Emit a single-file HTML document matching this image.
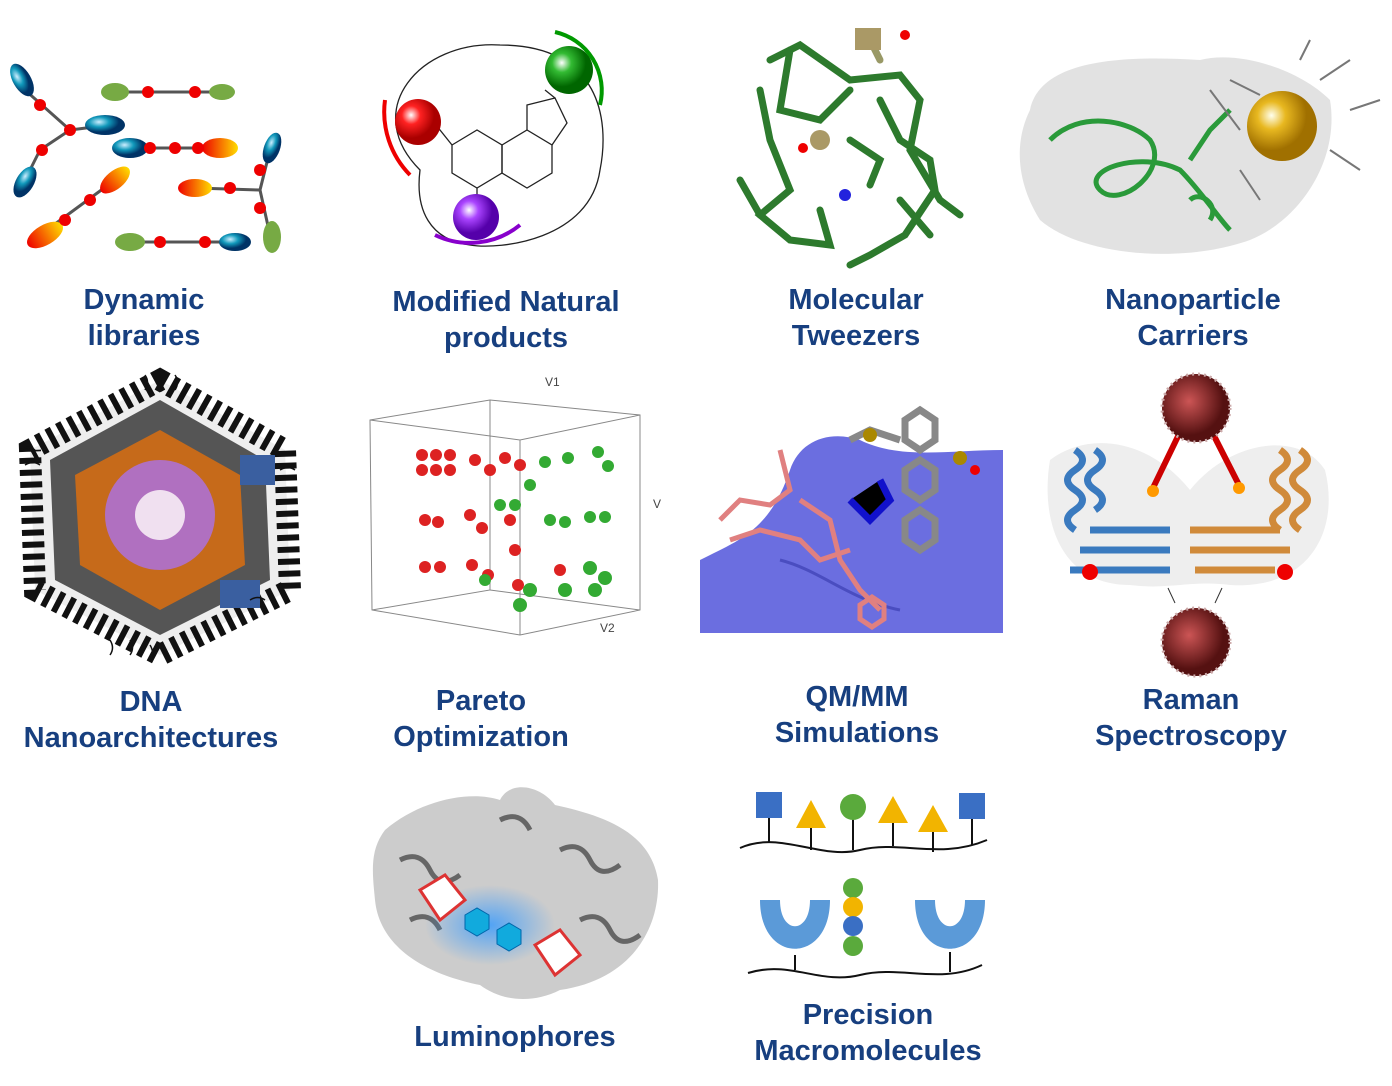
<!DOCTYPE html>
<html><head><meta charset="utf-8"><style>
html,body{margin:0;padding:0;background:#fff;}
body{width:1392px;height:1086px;position:relative;overflow:hidden;font-family:"Liberation Sans",sans-serif;}
.l{position:absolute;color:#173f7f;font-weight:bold;font-size:29px;line-height:35.5px;text-align:center;width:400px;white-space:nowrap;}
svg{position:absolute;left:0;top:0;}
</style></head><body>
<svg width="1392" height="1086" viewBox="0 0 1392 1086">
<defs>
<radialGradient id="gR" cx="35%" cy="35%"><stop offset="0" stop-color="#fff"/><stop offset=".4" stop-color="#f22"/><stop offset="1" stop-color="#a00"/></radialGradient>
<radialGradient id="gG" cx="35%" cy="35%"><stop offset="0" stop-color="#fff"/><stop offset=".4" stop-color="#3b3"/><stop offset="1" stop-color="#060"/></radialGradient>
<radialGradient id="gP" cx="35%" cy="35%"><stop offset="0" stop-color="#fff"/><stop offset=".4" stop-color="#a4f"/><stop offset="1" stop-color="#50a"/></radialGradient>
<radialGradient id="gY" cx="35%" cy="35%"><stop offset="0" stop-color="#ffe"/><stop offset=".4" stop-color="#e8b820"/><stop offset="1" stop-color="#a07000"/></radialGradient>
<radialGradient id="gB" cx="35%" cy="35%"><stop offset="0" stop-color="#cef"/><stop offset=".5" stop-color="#19b"/><stop offset="1" stop-color="#036"/></radialGradient>
<radialGradient id="gM" cx="40%" cy="40%"><stop offset="0" stop-color="#c55"/><stop offset="1" stop-color="#511"/></radialGradient>
<linearGradient id="gO" x1="0" x2="1"><stop offset="0" stop-color="#e00"/><stop offset="1" stop-color="#fd0"/></linearGradient>
<radialGradient id="gl" cx="50%" cy="50%"><stop offset="0" stop-color="#39f" stop-opacity=".8"/><stop offset="1" stop-color="#39f" stop-opacity="0"/></radialGradient>
</defs>

<g stroke="#555" stroke-width="3">
<line x1="25" y1="90" x2="70" y2="130"/><line x1="70" y1="130" x2="110" y2="125"/><line x1="40" y1="150" x2="70" y2="130"/><line x1="40" y1="150" x2="25" y2="180"/>
<line x1="110" y1="92" x2="220" y2="92"/><line x1="120" y1="148" x2="215" y2="148"/>
<line x1="40" y1="235" x2="115" y2="180"/><line x1="195" y1="188" x2="260" y2="190"/><line x1="260" y1="190" x2="270" y2="150"/><line x1="260" y1="190" x2="270" y2="235"/>
<line x1="125" y1="242" x2="235" y2="242"/>
</g>
<ellipse cx="22" cy="80" rx="9" ry="18" fill="url(#gB)" transform="rotate(-30 22 80)"/>
<ellipse cx="105" cy="125" rx="20" ry="10" fill="url(#gB)"/>
<ellipse cx="25" cy="182" rx="9" ry="17" fill="url(#gB)" transform="rotate(30 25 182)"/>
<ellipse cx="115" cy="92" rx="14" ry="9" fill="#7a4"/><ellipse cx="222" cy="92" rx="13" ry="8" fill="#7a4"/>
<ellipse cx="130" cy="148" rx="18" ry="10" fill="url(#gB)"/><ellipse cx="220" cy="148" rx="18" ry="10" fill="url(#gO)"/>
<ellipse cx="45" cy="235" rx="20" ry="10" fill="url(#gO)" transform="rotate(-30 45 235)"/><ellipse cx="115" cy="180" rx="18" ry="9" fill="url(#gO)" transform="rotate(-40 115 180)"/>
<ellipse cx="195" cy="188" rx="17" ry="9" fill="url(#gO)"/><ellipse cx="272" cy="148" rx="8" ry="16" fill="url(#gB)" transform="rotate(20 272 148)"/><ellipse cx="272" cy="237" rx="9" ry="16" fill="#7a4"/>
<ellipse cx="130" cy="242" rx="15" ry="9" fill="#7a4"/><ellipse cx="235" cy="242" rx="16" ry="9" fill="url(#gB)"/>
<g fill="#e00"><circle cx="40" cy="105" r="6"/><circle cx="70" cy="130" r="6"/><circle cx="42" cy="150" r="6"/><circle cx="148" cy="92" r="6"/><circle cx="195" cy="92" r="6"/><circle cx="150" cy="148" r="6"/><circle cx="175" cy="148" r="6"/><circle cx="198" cy="148" r="6"/><circle cx="65" cy="220" r="6"/><circle cx="90" cy="200" r="6"/><circle cx="230" cy="188" r="6"/><circle cx="260" cy="170" r="6"/><circle cx="260" cy="208" r="6"/><circle cx="160" cy="242" r="6"/><circle cx="205" cy="242" r="6"/></g>

<path d="M420,170 C360,110 420,40 500,45 C600,45 610,120 600,170 C590,240 500,250 470,245 C430,240 415,210 420,170Z" fill="none" stroke="#222" stroke-width="1.3"/>
<path d="M385,100 A90,90 0 0 0 410,175" fill="none" stroke="#e00" stroke-width="4"/>
<path d="M555,32 A60,60 0 0 1 600,105" fill="none" stroke="#090" stroke-width="4"/>
<path d="M435,235 A80,80 0 0 0 520,225" fill="none" stroke="#80c" stroke-width="4"/>
<g fill="none" stroke="#222" stroke-width="1.3"><path d="M452,145 L477,130 L502,145 L502,173 L477,188 L452,173Z"/><path d="M502,145 L527,130 L552,145 L552,173 L527,188 L502,173Z"/><path d="M527,130 L527,105 L555,98 L567,123 L552,145"/><line x1="436" y1="125" x2="452" y2="145"/><line x1="477" y1="188" x2="477" y2="205"/><line x1="545" y1="90" x2="555" y2="98"/></g>
<circle cx="418" cy="122" r="23" fill="url(#gR)"/><circle cx="569" cy="70" r="24" fill="url(#gG)"/><circle cx="476" cy="217" r="23" fill="url(#gP)"/>

<g stroke="#2d7a2d" stroke-width="7" stroke-linecap="round" fill="none">
<path d="M770,60 L800,45 L850,80 L900,75 L920,100 L910,150 L940,200 L960,215"/>
<path d="M760,90 L770,140 L790,190 L760,215 L790,240 L830,245 L820,210"/>
<path d="M790,50 L780,110 L820,120 L850,90"/>
<path d="M880,100 L900,140 L930,160 L935,190 L905,235 L870,255 L850,265"/>
<path d="M740,180 L760,215 M850,140 L880,160 L870,185 M900,200 L930,235"/>
<path d="M870,40 L880,60" stroke="#996"/>
</g>
<rect x="855" y="28" width="26" height="22" fill="#a96"/><circle cx="820" cy="140" r="10" fill="#a96"/>
<circle cx="905" cy="35" r="5" fill="#e00"/><circle cx="803" cy="148" r="5" fill="#e00"/><circle cx="845" cy="195" r="6" fill="#22d"/>

<path d="M1030,110 C1040,60 1120,55 1200,60 C1240,50 1300,70 1330,100 C1340,160 1300,220 1250,240 C1180,265 1080,255 1040,220 C1015,180 1015,140 1030,110Z" fill="#ddd" opacity=".85"/>
<g fill="none" stroke="#2a9a3a" stroke-width="5"><path d="M1050,140 C1080,110 1130,120 1150,140 C1170,170 1120,210 1100,190 C1080,170 1140,150 1180,170 C1200,190 1220,220 1230,230"/><path d="M1190,160 L1210,130 L1230,110 M1190,200 C1200,190 1220,205 1210,220"/></g>
<g stroke="#777" stroke-width="2"><path d="M1230,80 L1260,95 M1320,80 L1350,60 M1330,150 L1360,170 M1240,170 L1260,200 M1350,110 L1380,100 M1300,60 L1310,40 M1210,90 L1240,130"/></g>
<circle cx="1282" cy="126" r="35" fill="url(#gY)"/>

<polygon points="160,380 285,450 290,590 160,655 35,590 30,450" fill="#eee" stroke="#111" stroke-width="22" stroke-dasharray="6 6"/>
<polygon points="160,400 265,460 270,580 160,635 55,580 50,460" fill="#555"/>
<polygon points="160,430 240,475 245,565 160,610 80,565 75,475" fill="#c66a1a"/>
<circle cx="160" cy="515" r="55" fill="#b070c0"/><circle cx="160" cy="515" r="25" fill="#f0e0f0"/>
<g fill="#3a5fa0"><rect x="240" y="455" width="35" height="30"/><rect x="220" y="580" width="40" height="28"/></g>
<g stroke="#111" stroke-width="1.5" fill="none"><path d="M145,390 q5,-8 0,-15 M160,390 q5,-8 0,-15 M175,390 q5,-8 0,-15 M20,450 q8,-5 15,0 M25,465 q8,-5 15,0 M280,470 q8,-5 15,0 M280,490 q8,-5 15,0 M250,600 q8,-5 15,0 M110,640 q5,8 0,15 M130,640 q5,8 0,15 M150,645 q5,8 0,15"/></g>

<g fill="none" stroke="#888" stroke-width="1"><path d="M370,420 L490,400 L640,415 L640,610 L520,635 L372,610Z"/><path d="M370,420 L520,440 L640,415 M520,440 L520,635 M490,400 L490,590 L372,610 M490,590 L640,610"/></g>
<text x="545" y="386" font-family="Liberation Sans" font-size="12" fill="#444">V1</text>
<text x="653" y="508" font-family="Liberation Sans" font-size="12" fill="#444">V</text>
<text x="600" y="632" font-family="Liberation Sans" font-size="12" fill="#444">V2</text>
<g fill="#d22"><circle cx="422" cy="455" r="6"/><circle cx="436" cy="455" r="6"/><circle cx="450" cy="455" r="6"/><circle cx="422" cy="470" r="6"/><circle cx="436" cy="470" r="6"/><circle cx="450" cy="470" r="6"/><circle cx="475" cy="460" r="6"/><circle cx="490" cy="470" r="6"/><circle cx="505" cy="458" r="6"/><circle cx="520" cy="465" r="6"/><circle cx="425" cy="520" r="6"/><circle cx="438" cy="522" r="6"/><circle cx="470" cy="515" r="6"/><circle cx="482" cy="528" r="6"/><circle cx="510" cy="520" r="6"/><circle cx="425" cy="567" r="6"/><circle cx="440" cy="567" r="6"/><circle cx="472" cy="565" r="6"/><circle cx="488" cy="575" r="6"/><circle cx="515" cy="550" r="6"/><circle cx="518" cy="585" r="6"/><circle cx="560" cy="570" r="6"/></g>
<g fill="#3a3"><circle cx="545" cy="462" r="6"/><circle cx="568" cy="458" r="6"/><circle cx="598" cy="452" r="6"/><circle cx="608" cy="466" r="6"/><circle cx="530" cy="485" r="6"/><circle cx="500" cy="505" r="6"/><circle cx="515" cy="505" r="6"/><circle cx="550" cy="520" r="6"/><circle cx="565" cy="522" r="6"/><circle cx="590" cy="517" r="6"/><circle cx="605" cy="517" r="6"/><circle cx="485" cy="580" r="6"/><circle cx="530" cy="590" r="7"/><circle cx="520" cy="605" r="7"/><circle cx="565" cy="590" r="7"/><circle cx="590" cy="568" r="7"/><circle cx="605" cy="578" r="7"/><circle cx="595" cy="590" r="7"/></g>

<path d="M700,560 C740,540 770,530 790,470 C800,440 830,430 860,440 C900,460 950,450 1003,450 L1003,633 L700,633Z" fill="#6b6ee0"/>
<path d="M780,560 C820,570 850,600 900,610" stroke="#4a4dc0" stroke-width="3" fill="none"/>
<g stroke="#e08080" stroke-width="5" fill="none"><path d="M720,520 L740,500 L770,505 L790,490 L780,450 M730,540 L760,530 L800,540 L820,560 L850,550 M800,500 L830,520 L840,560 L860,590 L880,610"/><path d="M860,605 l12,-8 l12,8 l0,14 l-12,8 l-12,-8z"/></g>
<g stroke="#888" stroke-width="7" fill="none"><path d="M905,420 l15,-10 l15,10 l0,20 l-15,10 l-15,-10z M905,470 l15,-10 l15,10 l0,20 l-15,10 l-15,-10z M905,520 l15,-10 l15,10 l0,20 l-15,10 l-15,-10z M850,440 L870,430 L900,440"/></g>
<g stroke="#11c" stroke-width="7"><path d="M850,500 L870,520 L890,500 L880,480"/></g>
<circle cx="870" cy="435" r="7" fill="#a80"/><circle cx="960" cy="458" r="7" fill="#a80"/><circle cx="975" cy="470" r="5" fill="#e00"/>

<path d="M1050,460 C1090,430 1150,440 1190,490 C1230,440 1300,430 1325,470 C1340,530 1310,590 1230,585 C1190,580 1170,590 1130,585 C1060,585 1040,520 1050,460Z" fill="#eee"/>
<g fill="none" stroke-width="7"><path d="M1075,450 q15,10 0,20 q-15,10 0,20 q15,10 0,20 q-15,10 0,20 M1095,450 q15,10 0,20 q-15,10 0,20 q15,10 0,20 M1080,550 l90,0 M1070,570 l100,0 M1090,530 l80,0" stroke="#3a7abf"/><path d="M1280,450 q15,10 0,20 q-15,10 0,20 q15,10 0,20 q-15,10 0,20 M1300,450 q15,10 0,20 q-15,10 0,20 q15,10 0,20 q-15,10 0,20 M1190,530 l90,0 M1190,550 l100,0 M1195,570 l80,0" stroke="#d08a3a"/></g>
<line x1="1182" y1="428" x2="1152" y2="490" stroke="#c00" stroke-width="6"/><line x1="1210" y1="428" x2="1240" y2="487" stroke="#c00" stroke-width="6"/>
<circle cx="1153" cy="491" r="6" fill="#f90"/><circle cx="1239" cy="488" r="6" fill="#f90"/>
<circle cx="1090" cy="572" r="8" fill="#e00"/><circle cx="1285" cy="572" r="8" fill="#e00"/>
<line x1="1168" y1="588" x2="1175" y2="603" stroke="#333"/><line x1="1222" y1="588" x2="1215" y2="603" stroke="#333"/>
<circle cx="1196" cy="408" r="34" fill="url(#gM)" stroke="#caa" stroke-width="3" stroke-dasharray="2 4"/>
<circle cx="1196" cy="642" r="34" fill="url(#gM)" stroke="#caa" stroke-width="3" stroke-dasharray="2 4"/>

<path d="M385,830 C420,800 470,790 500,800 C510,780 540,785 555,805 C600,815 650,830 658,880 C660,930 630,980 560,990 C530,1005 500,1000 480,985 C430,975 380,950 375,900 C372,870 370,850 385,830Z" fill="#ccc"/>
<g fill="none" stroke="#666" stroke-width="5"><path d="M400,860 q20,-10 30,10 q10,20 30,5 M410,920 q20,-10 30,10 M560,850 q20,-10 30,10 q10,20 30,5 M580,920 q20,-10 30,10 q10,20 30,5 M500,820 q20,-10 30,10"/></g>
<ellipse cx="490" cy="925" rx="65" ry="40" fill="url(#gl)"/>
<g fill="#1ad" stroke="#06a"><path d="M465,915 l12,-7 l12,7 l0,14 l-12,7 l-12,-7z"/><path d="M497,930 l12,-7 l12,7 l0,14 l-12,7 l-12,-7z"/></g>
<g fill="#fff" stroke="#d33" stroke-width="3"><path d="M420,890 l25,-15 l20,25 l-25,20z"/><path d="M535,945 l25,-15 l20,25 l-25,20z"/></g>

<path d="M740,848 C780,830 820,860 860,850 C900,840 940,860 987,840" fill="none" stroke="#111" stroke-width="2"/>
<g stroke="#111" stroke-width="2"><line x1="769" y1="818" x2="769" y2="843"/><line x1="811" y1="828" x2="811" y2="850"/><line x1="853" y1="818" x2="853" y2="850"/><line x1="893" y1="823" x2="893" y2="846"/><line x1="933" y1="830" x2="933" y2="852"/><line x1="972" y1="818" x2="972" y2="845"/></g>
<rect x="756" y="792" width="26" height="26" fill="#3a6fc4"/><rect x="959" y="793" width="26" height="26" fill="#3a6fc4"/>
<polygon points="811,800 826,828 796,828" fill="#f2b400"/><polygon points="893,796 908,823 878,823" fill="#f2b400"/><polygon points="933,805 948,832 918,832" fill="#f2b400"/>
<circle cx="853" cy="807" r="13" fill="#5aaa3c"/>
<path d="M748,973 C790,960 820,985 860,975 C900,965 940,985 982,965" fill="none" stroke="#111" stroke-width="2"/>
<g stroke="#111" stroke-width="2"><line x1="795" y1="955" x2="795" y2="970"/><line x1="950" y1="952" x2="950" y2="972"/></g>
<path d="M760,900 L780,900 C780,935 810,935 810,900 L830,900 C830,965 760,965 760,900Z" fill="#5b9ad8"/>
<path d="M915,900 L935,900 C935,935 965,935 965,900 L985,900 C985,965 915,965 915,900Z" fill="#5b9ad8"/>
<circle cx="853" cy="888" r="10" fill="#5aaa3c"/><circle cx="853" cy="907" r="10" fill="#f2b400"/><circle cx="853" cy="926" r="10" fill="#3a6fc4"/><circle cx="853" cy="946" r="10" fill="#5aaa3c"/>
</svg>

<div class="l" style="left:-56px;top:283px">Dynamic<br>libraries</div>
<div class="l" style="left:306px;top:285px">Modified Natural<br>products</div>
<div class="l" style="left:656px;top:283px">Molecular<br>Tweezers</div>
<div class="l" style="left:993px;top:283px">Nanoparticle<br>Carriers</div>
<div class="l" style="left:-49px;top:685px">DNA<br>Nanoarchitectures</div>
<div class="l" style="left:281px;top:684px">Pareto<br>Optimization</div>
<div class="l" style="left:657px;top:680px">QM/MM<br>Simulations</div>
<div class="l" style="left:991px;top:683px">Raman<br>Spectroscopy</div>
<div class="l" style="left:315px;top:1020px">Luminophores</div>
<div class="l" style="left:668px;top:998px">Precision<br>Macromolecules</div>
</body></html>
